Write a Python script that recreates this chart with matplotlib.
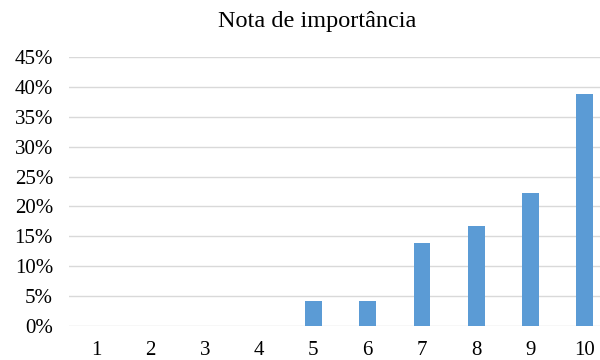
import matplotlib
matplotlib.use("Agg")
import matplotlib.pyplot as plt
from matplotlib.ticker import MultipleLocator, FuncFormatter

categories = ["1", "2", "3", "4", "5", "6", "7", "8", "9", "10"]
values = [0, 0, 0, 0, 4.17, 4.17, 13.89, 16.67, 22.22, 38.89]
title = "Nota de importância"

plt.rcParams['font.family'] = ['Liberation Serif', 'DejaVu Serif']

fig = plt.figure(figsize=(6, 3.6), dpi=100)
ax = fig.add_axes([69/600, 1-326/360, 531/600, (326-57)/360])

x = list(range(1, len(categories) + 1))
ax.bar(x, values, width=0.31, color="#5b9bd5", zorder=3)

ax.set_xlim(0.5, 0.5 + 531/54.3)
ax.set_ylim(0, 45)
ax.yaxis.set_major_locator(MultipleLocator(5))
ax.yaxis.set_major_formatter(FuncFormatter(lambda v, p: f"{v:.0f}%"))
ax.set_xticks(x)
ax.set_xticklabels(categories)
ax.grid(axis="y", color="#d9d9d9", linewidth=1.0, zorder=0)
for s in ["top", "right", "left", "bottom"]:
    ax.spines[s].set_visible(False)
ax.tick_params(axis="both", length=0, labelsize=15, colors="#000000")
ax.tick_params(axis="y", pad=11.5)
ax.tick_params(axis="x", pad=11)
fig.text(317.5/600, 1-22/360, title, ha="center", va="center", fontsize=17.5)

fig.savefig("out.png", dpi=100)
